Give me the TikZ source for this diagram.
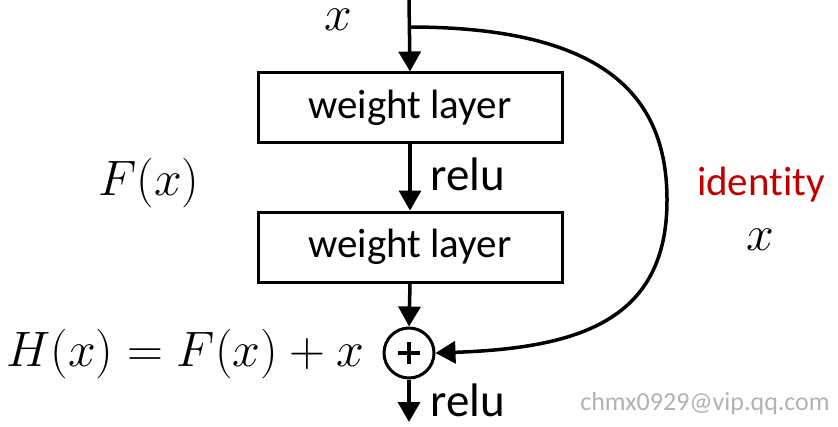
\documentclass[tikz,border=0pt]{standalone}
\usepackage{fontspec}
\setmainfont{Carlito}[Ligatures={NoCommon}]
\usetikzlibrary{arrows.meta}
\definecolor{idred}{RGB}{192,0,0}
\begin{document}
\begin{tikzpicture}[x=0.5pt,y=-0.5pt,
  wl/.style={draw, line width=1.5pt, minimum width=152pt, minimum height=35pt, inner sep=0pt, font=\fontsize{20.5}{24}\selectfont},
  conn/.style={line width=1.75pt, -{Triangle[length=10pt,width=11pt]}},
  lbl/.style={font=\fontsize{20.5}{24}\selectfont, inner sep=0pt},
  relulbl/.style={font=\fontsize{23.5}{28}\selectfont, inner sep=0pt},
  mth/.style={font=\fontsize{23}{27}\selectfont, inner sep=0pt}]
\useasboundingbox (0,0) rectangle (838,427);
\coordinate (top) at (409,0);
\coordinate (split) at (409,27);
\node[wl] (b1) at (410,108) {weight layer};
\node[wl] (b2) at (410,247) {weight layer};
\node[draw, circle, line width=1.5pt, minimum size=25pt, inner sep=0pt,
  path picture={\draw[line width=1.75pt] ([xshift=-5.5pt]path picture bounding box.center) -- ([xshift=5.5pt]path picture bounding box.center);
  \draw[line width=1.75pt] ([yshift=-5.5pt]path picture bounding box.center) -- ([yshift=5.5pt]path picture bounding box.center);}] (plus) at (409,353) {};
\coordinate (out) at (409,422);
\draw[conn] (top) -- (b1.north);
\draw[conn] (b1.south) -- (b2.north);
\draw[conn] (b2.south) -- (plus.north);
\draw[conn] (plus.south) -- (out);
\draw[conn] (split) .. controls (610,27) and (667,100) .. (667,200) .. controls (667,320) and (580,348) .. (plus.east);
\node[mth] (xtop) at (338,20) {$x$};
\node[relulbl] (relu1) at (468,174) {relu};
\node[relulbl] (relu2) at (468,400) {relu};
\node[mth] (fx) at (149,183) {$F(x)$};
\node[lbl, text=idred] (id) at (761,185) {identity};
\node[mth] (xid) at (760,240) {$x$};
\node[mth] (hx) at (185,354) {$H(x)=F(x)+x$};
\node[lbl, text=black!30, font=\fontsize{13}{15}\selectfont] (wm) at (705,404) {chmx0929@vip.qq.com};
\end{tikzpicture}
\end{document}
